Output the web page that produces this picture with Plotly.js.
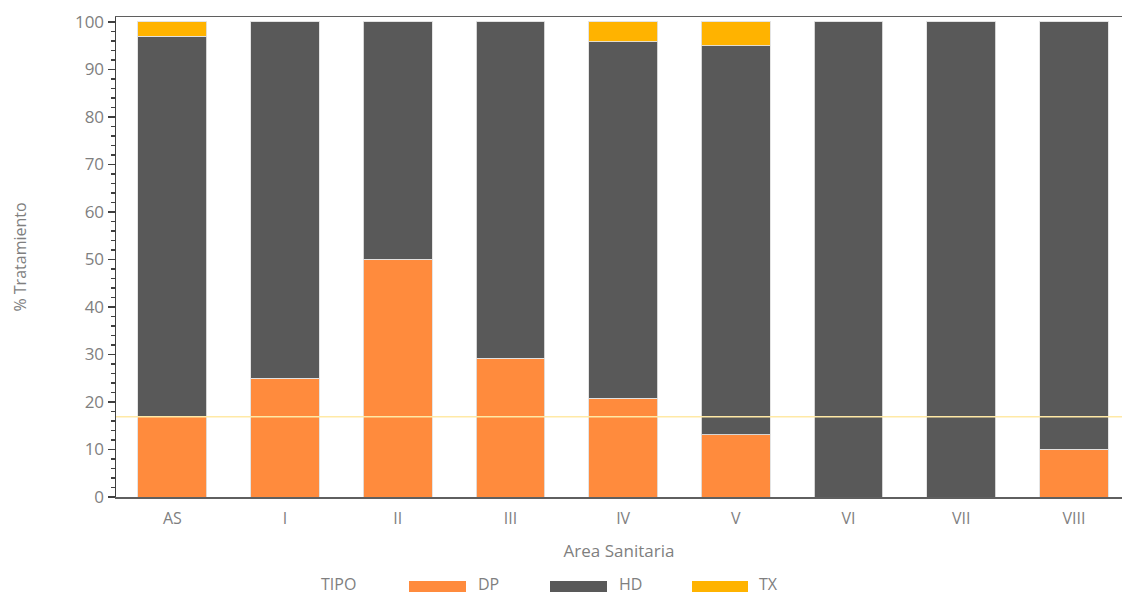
<!DOCTYPE html>
<html>
<head>
<meta charset="utf-8">
<script src="https://cdn.plot.ly/plotly-3.0.1.min.js"></script>
<style>html,body{margin:0;padding:0;background:#fff;} #chart{width:1122px;height:594px;}</style>
</head>
<body>
<div id="chart"></div>
<script>
var categories = ['AS','I','II','III','IV','V','VI','VII','VIII'];
var dpValues = [16.9, 25, 50, 29.2, 20.8, 13.1, 0, 0, 10];
var hdValues = [80.1, 75, 50, 70.8, 75, 81.8, 100, 100, 90];
var txValues = [3, 0, 0, 0, 4.2, 5.1, 0, 0, 0];
var seriesNames = ['DP', 'HD', 'TX'];
var legendTitle = 'TIPO';
var referenceValue = 16.9;

var colors = {DP: '#FF8B3D', HD: '#595959', TX: '#FFB300'};
var fontFam = '"Open Sans", "Noto Sans", sans-serif';
var textGrey = '#7f7f7f';

function barTrace(name, vals) {
  return {
    type: 'bar', name: name, x: categories, y: vals,
    marker: {color: colors[name], line: {color: 'rgba(225,225,225,0.9)', width: 1}},
    width: 0.61, showlegend: false, hoverinfo: 'x+y+name'
  };
}
var data = [barTrace('DP', dpValues), barTrace('HD', hdValues), barTrace('TX', txValues)];

var plotL = 116, plotR = 1122, plotT = 17, plotB = 497;
var pw = plotR - plotL, ph = plotB - plotT;
function px(x) { return (x - plotL) / pw; }
function py(y) { return (plotB - y) / ph; }

var shapes = [{
  type: 'line', xref: 'paper', yref: 'y', x0: 0, x1: 1, y0: referenceValue, y1: referenceValue,
  line: {color: '#FFE9A6', width: 1.5}, layer: 'above'
}];
var legendY = 584;
var annotations = [{
  xref: 'paper', yref: 'paper', x: px(319), y: py(legendY), xanchor: 'left', yanchor: 'middle',
  text: legendTitle, showarrow: false, font: {family: fontFam, size: 16, color: textGrey}
}];
var legendPos = [[409, 466, 476], [550, 607, 617], [692, 748, 757]];
seriesNames.forEach(function (n, i) {
  var p = legendPos[i];
  shapes.push({type: 'rect', xref: 'paper', yref: 'paper', x0: px(p[0]), x1: px(p[1]), y0: py(592), y1: py(581),
    fillcolor: colors[n], line: {width: 0}});
  annotations.push({xref: 'paper', yref: 'paper', x: px(p[2]), y: py(legendY), xanchor: 'left', yanchor: 'middle',
    text: n, showarrow: false, font: {family: fontFam, size: 16, color: textGrey}});
});

var layout = {
  width: 1122, height: 594,
  margin: {l: plotL, r: 1122 - plotR, t: plotT, b: 594 - plotB, pad: 0},
  barmode: 'stack', bargap: 0.39,
  paper_bgcolor: '#fff', plot_bgcolor: '#fff',
  font: {family: fontFam, size: 16, color: textGrey},
  showlegend: false,
  xaxis: {
    type: 'category', range: [-0.5, -0.5 + pw / 112.7], showgrid: false, zeroline: false,
    showline: true, linecolor: '#5f5f5f', linewidth: 1.5, mirror: true, ticks: '',
    ticklabelstandoff: 6,
    tickfont: {family: fontFam, size: 16, color: textGrey},
    title: {text: 'Area Sanitaria', font: {family: fontFam, size: 17, color: textGrey}, standoff: 17}
  },
  yaxis: {
    range: [0, 101], dtick: 10, tick0: 0, showgrid: false, zeroline: false,
    showline: true, linecolor: '#404040', linewidth: 1.5,
    ticks: 'outside', ticklen: 7, tickwidth: 1.5, tickcolor: '#404040',
    minor: {dtick: 2, ticks: 'outside', ticklen: 4, tickwidth: 1.5, tickcolor: '#404040', showgrid: false},
    tickfont: {family: fontFam, size: 17, color: textGrey},
    title: {text: '% Tratamiento', font: {family: fontFam, size: 16, color: textGrey}, standoff: 44}
  },
  shapes: shapes,
  annotations: annotations
};

Plotly.newPlot('chart', data, layout, {displayModeBar: false, staticPlot: true});
</script>
</body>
</html>
